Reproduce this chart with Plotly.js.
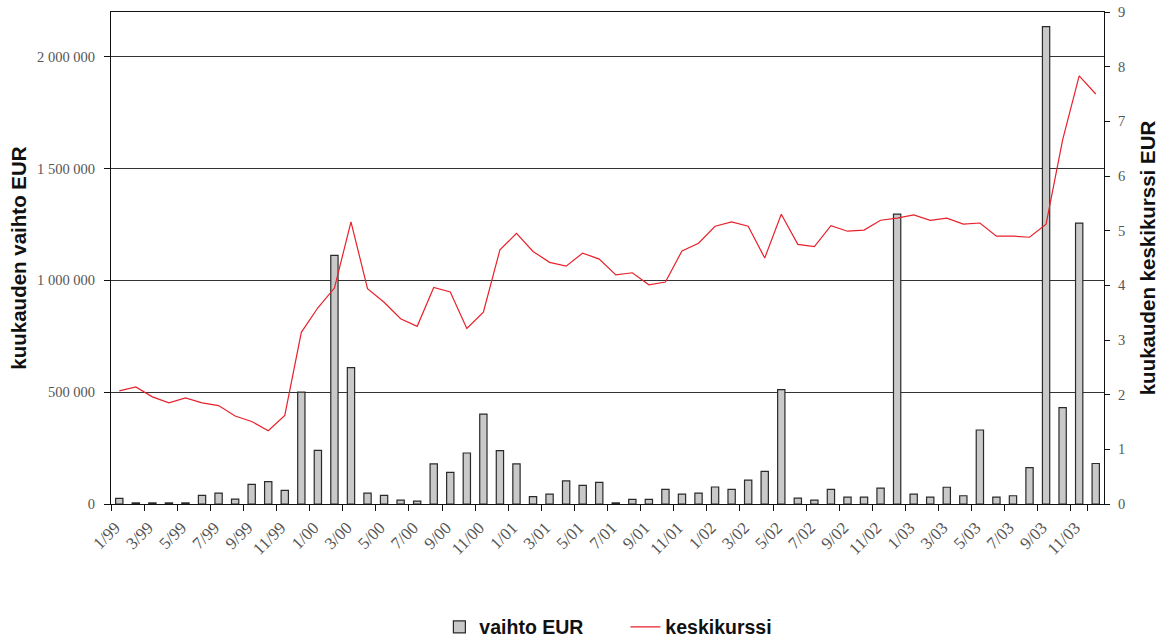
<!DOCTYPE html>
<html>
<head>
<meta charset="utf-8">
<script src="https://cdn.plot.ly/plotly-3.0.1.min.js"></script>
<style>html,body{margin:0;padding:0;background:#fff;}#chart{width:1166px;height:640px;}</style>
</head>
<body>
<div id="chart"></div>
<script>
var months = ["1/99","2/99","3/99","4/99","5/99","6/99","7/99","8/99","9/99","10/99","11/99","12/99",
"1/00","2/00","3/00","4/00","5/00","6/00","7/00","8/00","9/00","10/00","11/00","12/00",
"1/01","2/01","3/01","4/01","5/01","6/01","7/01","8/01","9/01","10/01","11/01","12/01",
"1/02","2/02","3/02","4/02","5/02","6/02","7/02","8/02","9/02","10/02","11/02","12/02",
"1/03","2/03","3/03","4/03","5/03","6/03","7/03","8/03","9/03","10/03","11/03","12/03"];

var vaihto = [25000,5000,5000,5000,5000,39000,49000,22000,88000,100000,61000,500000,
240000,1112000,610000,49000,39000,17000,13000,179000,141000,228000,402000,239000,
179000,33000,44000,103000,83000,97000,5000,21000,21000,65000,44000,49000,
76000,65000,107000,146000,511000,26000,17000,65000,31000,31000,71000,1296000,
44000,31000,75000,37000,331000,31000,37000,163000,2135000,431000,1256000,181000];

var keskikurssi = [2.07,2.14,1.96,1.85,1.94,1.85,1.80,1.61,1.51,1.34,1.62,3.14,
3.59,3.95,5.16,3.94,3.69,3.39,3.25,3.96,3.88,3.21,3.51,4.65,
4.95,4.62,4.42,4.35,4.59,4.48,4.19,4.23,4.01,4.06,4.63,4.77,
5.08,5.16,5.08,4.50,5.30,4.75,4.71,5.09,4.99,5.01,5.19,5.23,
5.29,5.19,5.23,5.12,5.14,4.90,4.90,4.88,5.12,6.66,7.83,7.50];

var tickLabels = months.filter(function(m, i){ return i % 2 === 0; });

var traces = [
  {
    type: "bar", name: "vaihto EUR", x: months, y: vaihto,
    marker: {color: "#c9c9c9", line: {color: "#2a2a2a", width: 1.2}},
    yaxis: "y", hoverinfo: "x+y"
  },
  {
    type: "scatter", mode: "lines", name: "keskikurssi", x: months, y: keskikurssi,
    line: {color: "#e8212b", width: 1.2}, yaxis: "y2"
  }
];

var tickFont = {family: "Liberation Serif, Times New Roman, serif", size: 14.5, color: "#555"};
var xTickFont = {family: "Liberation Serif, Times New Roman, serif", size: 17, color: "#555"};
var titleFont = {family: "Liberation Sans, Arial, sans-serif", size: 20.5, color: "#111", weight: "bold"};

var layout = {
  width: 1166, height: 640,
  margin: {l: 111, r: 62, t: 12, b: 135.5, pad: 0},
  paper_bgcolor: "#fff", plot_bgcolor: "#fff",
  separators: ", ",
  showlegend: true,
  bargap: 0.56,
  legend: {
    orientation: "h", x: 0.518, xanchor: "center", xref: "paper",
    y: 0.02, yanchor: "middle", yref: "container",
    font: {family: "Liberation Sans, Arial, sans-serif", size: 19.5, color: "#111", weight: "bold"},
    traceorder: "normal", itemwidth: 30, entrywidth: 141
  },
  xaxis: {
    type: "category",
    categoryorder: "array", categoryarray: months,
    tickmode: "array", tickvals: tickLabels, ticktext: tickLabels,
    tickson: "boundaries",
    tickangle: -45,
    ticks: "outside", ticklen: 6, tickcolor: "#111", tickwidth: 1,
    tickfont: xTickFont,
    ticklabelstandoff: 6, ticklabelshift: -4,
    showline: true, linecolor: "#111", linewidth: 1, mirror: true,
    showgrid: false, zeroline: false, automargin: false,
    range: [-0.5, 59.5]
  },
  yaxis: {
    range: [0, 2200000],
    tickvals: [0, 500000, 1000000, 1500000, 2000000],
    ticktext: ["0", "500 000", "1 000 000", "1 500 000", "2 000 000"],
    ticks: "outside", ticklen: 6, tickcolor: "#111",
    tickfont: tickFont, ticklabelstandoff: 6,
    showline: true, linecolor: "#111", linewidth: 1,
    showgrid: true, gridcolor: "#333", gridwidth: 1,
    zeroline: false, automargin: false,
    title: {text: "kuukauden vaihto EUR", font: titleFont, standoff: 4}
  },
  yaxis2: {
    overlaying: "y", side: "right",
    range: [0, 9], dtick: 1,
    ticks: "outside", ticklen: 5, tickcolor: "#111",
    tickfont: tickFont, ticklabelstandoff: 5,
    showline: true, linecolor: "#111", linewidth: 1,
    showgrid: false, zeroline: false, automargin: false,
    title: {text: "kuukauden keskikurssi EUR", font: titleFont, standoff: 15}
  }
};

Plotly.newPlot("chart", traces, layout, {displayModeBar: false, staticPlot: true});
</script>
</body>
</html>
